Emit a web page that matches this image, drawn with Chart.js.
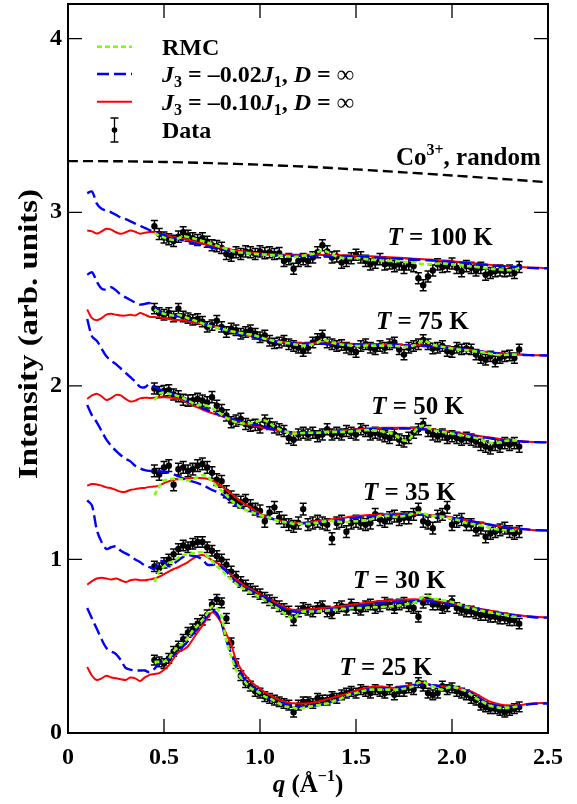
<!DOCTYPE html>
<html><head><meta charset="utf-8">
<script src="https://cdn.jsdelivr.net/npm/chart.js@4.4.1/dist/chart.umd.min.js"></script>
<style>html,body{margin:0;padding:0;background:#fff;}#wrap{width:577px;height:804px;}</style>
</head><body><div id="wrap"><canvas id="c" width="577" height="804"></canvas></div>
<script>
// ---------- data ----------
const qData = [0.45,0.475,0.5,0.525,0.55,0.575,0.6,0.625,0.65,0.675,0.7,0.725,0.75,0.775,0.8,0.825,0.85,0.875,0.9,0.925,0.95,0.975,1.0,1.025,1.05,1.075,1.1,1.125,1.15,1.175,1.2,1.225,1.25,1.275,1.3,1.325,1.35,1.375,1.4,1.425,1.45,1.475,1.5,1.525,1.55,1.575,1.6,1.625,1.65,1.675,1.7,1.725,1.75,1.775,1.8,1.825,1.85,1.875,1.9,1.925,1.95,1.975,2.0,2.025,2.05,2.075,2.1,2.125,2.15,2.175,2.2,2.225,2.25,2.275,2.3,2.325,2.35];
const qModel = [0.1,0.125,0.15,0.175,0.2,0.225,0.25,0.275,0.3,0.325,0.35,0.375,0.4,0.425,0.45,0.475,0.5,0.525,0.55,0.575,0.6,0.625,0.65,0.675,0.7,0.725,0.75,0.775,0.8,0.825,0.85,0.875,0.9,0.925,0.95,0.975,1.0,1.025,1.05,1.075,1.1,1.125,1.15,1.175,1.2,1.225,1.25,1.275,1.3,1.35,1.4,1.45,1.5,1.55,1.6,1.65,1.7,1.75,1.8,1.85,1.9,1.95,2.0,2.05,2.1,2.15,2.2,2.25,2.3,2.35,2.4,2.45,2.5];
const qRandom = [0,0.25,0.5,0.75,1.0,1.25,1.5,1.75,2.0,2.25,2.5];
const coRandom = [3.295,3.294,3.29,3.283,3.274,3.262,3.247,3.23,3.212,3.193,3.173];

const temperatures = ['25','30','35','50','75','100'];
const errBars = [0.028,0.03,0.034,0.032,0.03,0.032];
const labelQ = [1.656,1.726,1.778,1.821,1.846,1.9375];
const labelI = [0.334,0.833,1.341,1.84,2.329,2.809];

const data25 = [0.42,0.41,0.40,0.43,0.47,0.50,0.54,0.58,0.60,0.63,
0.65,0.68,0.74,0.77,0.75,0.66,0.52,0.40,0.33,0.29,
0.27,0.24,0.23,0.21,0.20,0.19,0.18,0.17,0.16,0.12,
0.16,0.18,0.18,0.17,0.20,0.19,0.19,0.21,0.20,0.22,
0.23,0.24,0.23,0.25,0.24,0.23,0.25,0.24,0.23,0.25,
0.22,0.24,0.24,0.26,0.25,0.29,0.27,0.23,0.22,0.23,
0.27,0.25,0.26,0.24,0.23,0.22,0.20,0.19,0.16,0.15,
0.14,0.14,0.13,0.12,0.13,0.14,0.15];
const rmc25 = [0.41,0.41,0.41,0.43,0.47,0.50,0.52,0.55,0.59,0.62,
0.65,0.69,0.73,0.72,0.67,0.53,0.44,0.365,0.32,0.29,
0.26,0.245,0.23,0.21,0.20,0.185,0.17,0.155,0.15,0.145,
0.14,0.145,0.15,0.155,0.16,0.165,0.17,0.18,0.19,0.20,
0.215,0.225,0.23,0.24,0.245,0.25,0.25,0.25,0.25,0.25,
0.25,0.25,0.255,0.26,0.27,0.29,0.295,0.28,0.27,0.255,
0.25,0.26,0.265,0.26,0.25,0.24,0.22,0.20,0.185,0.17,
0.155,0.15,0.145,0.145,0.145,0.15,0.155];
const blue25 = [0.72,0.66,0.60,0.54,0.49,0.47,0.455,0.42,0.375,0.365,
0.36,0.36,0.36,0.35,0.37,0.40,0.41,0.43,0.45,0.47,
0.50,0.53,0.57,0.60,0.635,0.675,0.705,0.69,0.63,0.53,
0.46,0.39,0.345,0.30,0.275,0.255,0.235,0.21,0.195,0.185,
0.175,0.17,0.16,0.155,0.152,0.152,0.155,0.158,0.16,
0.17,0.19,0.21,0.235,0.248,0.255,0.258,0.26,0.265,0.275,0.28,0.275,0.27,0.265,0.255,0.23,0.195,0.165,0.155,0.152,0.157,0.165,0.17,0.17];
const red25 = [0.38,0.33,0.305,0.315,0.33,0.32,0.315,0.31,0.305,0.32,
0.315,0.30,0.32,0.335,0.34,0.345,0.365,0.39,0.43,0.465,
0.48,0.50,0.54,0.58,0.62,0.66,0.695,0.675,0.63,0.57,
0.51,0.42,0.37,0.33,0.30,0.275,0.257,0.235,0.22,0.205,
0.19,0.18,0.175,0.171,0.17,0.17,0.171,0.175,0.18,
0.195,0.21,0.225,0.245,0.26,0.268,0.265,0.26,0.27,0.278,0.29,0.275,0.27,0.265,0.255,0.24,0.21,0.18,0.165,0.158,0.16,0.168,0.172,0.172];

const data30 = [0.96,0.95,0.98,1.00,1.03,1.06,1.08,1.07,1.09,1.10,
1.10,1.07,1.05,1.02,1.00,0.97,0.93,0.90,0.87,0.85,
0.83,0.815,0.80,0.78,0.765,0.75,0.73,0.715,0.70,0.65,
0.70,0.72,0.71,0.70,0.72,0.73,0.70,0.69,0.72,0.73,
0.71,0.74,0.72,0.71,0.73,0.74,0.72,0.73,0.75,0.74,
0.72,0.74,0.75,0.73,0.72,0.67,0.75,0.77,0.74,0.74,
0.72,0.73,0.76,0.72,0.71,0.70,0.70,0.69,0.68,0.68,
0.67,0.67,0.66,0.66,0.65,0.65,0.63];
const rmc30 = [0.87,0.93,0.96,0.98,0.99,1.01,1.025,1.03,1.035,1.04,
1.04,1.02,0.99,0.96,0.94,0.91,0.885,0.86,0.84,0.825,
0.81,0.795,0.785,0.765,0.745,0.73,0.71,0.69,0.67,0.66,
0.685,0.70,0.70,0.70,0.70,0.705,0.705,0.71,0.71,0.715,
0.715,0.72,0.72,0.72,0.72,0.725,0.725,0.725,0.727,0.73,
0.73,0.735,0.74,0.745,0.75,0.765,0.785,0.79,0.775,0.77,
0.765,0.76,0.755,0.745,0.735,0.725,0.72,0.71,0.705,0.70,
0.695,0.69,0.685,0.68,0.675,0.67,0.67];
const blue30 = [1.34,1.31,1.17,1.10,1.06,1.07,1.075,1.05,1.035,1.02,
1.00,0.985,0.965,0.955,0.945,0.99,0.985,0.96,0.975,0.995,
1.015,1.025,1.02,1.015,1.00,0.97,0.968,0.972,0.955,0.93,
0.90,0.87,0.85,0.835,0.82,0.805,0.795,0.78,0.765,0.745,
0.73,0.715,0.705,0.70,0.698,0.70,0.702,0.705,0.707,
0.71,0.715,0.722,0.73,0.737,0.745,0.75,0.755,0.758,0.76,0.76,0.758,0.75,0.74,0.73,0.72,0.71,0.70,0.69,0.68,0.675,0.67,0.665,0.665];
const red30 = [0.855,0.875,0.89,0.895,0.89,0.885,0.89,0.88,0.87,0.88,
0.885,0.88,0.88,0.885,0.89,0.90,0.915,0.93,0.945,0.955,
0.97,0.985,1.005,1.02,1.025,1.015,0.995,0.98,0.965,0.935,
0.91,0.885,0.865,0.845,0.83,0.815,0.80,0.785,0.77,0.755,
0.74,0.725,0.715,0.71,0.708,0.71,0.712,0.715,0.718,
0.722,0.728,0.735,0.742,0.75,0.757,0.762,0.765,0.768,0.77,0.768,0.765,0.755,0.745,0.735,0.725,0.715,0.705,0.695,0.685,0.678,0.672,0.668,0.665];

const data35 = [1.51,1.49,1.53,1.54,1.43,1.52,1.53,1.51,1.52,1.54,
1.55,1.53,1.50,1.46,1.45,1.39,1.36,1.34,1.33,1.34,
1.31,1.29,1.28,1.22,1.27,1.30,1.24,1.22,1.20,1.19,
1.21,1.29,1.20,1.21,1.22,1.21,1.20,1.12,1.21,1.22,
1.16,1.21,1.22,1.21,1.20,1.21,1.26,1.23,1.22,1.24,
1.25,1.23,1.24,1.24,1.26,1.29,1.22,1.21,1.18,1.25,
1.26,1.30,1.20,1.22,1.23,1.20,1.20,1.17,1.18,1.13,
1.15,1.16,1.17,1.18,1.16,1.15,1.16];
const rmc35 = [1.37,1.42,1.455,1.46,1.465,1.465,1.46,1.455,1.46,1.475,
1.485,1.48,1.45,1.42,1.395,1.37,1.34,1.32,1.30,1.285,
1.275,1.265,1.255,1.25,1.24,1.23,1.22,1.215,1.21,1.205,
1.205,1.205,1.205,1.208,1.212,1.218,1.22,1.222,1.22,1.215,
1.215,1.218,1.22,1.222,1.225,1.23,1.24,1.25,1.252,1.25,
1.245,1.245,1.25,1.255,1.265,1.27,1.265,1.255,1.25,1.25,
1.245,1.24,1.235,1.228,1.22,1.21,1.205,1.20,1.195,1.19,
1.18,1.175,1.17,1.168,1.165,1.165,1.165];
const blue35 = [1.89,1.83,1.79,1.74,1.69,1.655,1.625,1.60,1.58,1.565,
1.54,1.525,1.515,1.51,1.508,1.508,1.505,1.50,1.49,1.478,
1.465,1.455,1.448,1.44,1.43,1.415,1.40,1.39,1.375,1.355,
1.33,1.31,1.30,1.29,1.28,1.268,1.258,1.248,1.238,1.23,
1.222,1.217,1.212,1.208,1.207,1.208,1.21,1.213,1.215,
1.22,1.225,1.232,1.24,1.245,1.25,1.253,1.255,1.257,1.258,1.257,1.254,1.248,1.24,1.23,1.22,1.21,1.20,1.19,1.182,1.177,1.172,1.168,1.167];
const red35 = [1.425,1.435,1.432,1.425,1.415,1.41,1.40,1.39,1.39,1.40,
1.405,1.41,1.412,1.418,1.42,1.425,1.44,1.45,1.458,1.462,
1.465,1.467,1.469,1.47,1.468,1.465,1.455,1.44,1.42,1.40,
1.38,1.355,1.335,1.315,1.30,1.28,1.265,1.25,1.24,1.232,
1.225,1.22,1.215,1.212,1.21,1.212,1.215,1.218,1.222,
1.228,1.235,1.242,1.25,1.255,1.258,1.26,1.26,1.26,1.26,1.258,1.255,1.25,1.242,1.232,1.222,1.212,1.20,1.19,1.182,1.177,1.172,1.168,1.167];

const data50 = [1.985,1.965,1.97,1.975,1.95,1.94,1.92,1.915,1.917,1.925,
1.915,1.905,1.935,1.885,1.86,1.83,1.79,1.80,1.81,1.78,
1.77,1.775,1.76,1.80,1.78,1.76,1.75,1.74,1.70,1.69,
1.72,1.73,1.72,1.73,1.71,1.72,1.75,1.72,1.73,1.72,
1.74,1.73,1.72,1.75,1.74,1.72,1.73,1.72,1.71,1.70,
1.72,1.69,1.68,1.70,1.73,1.75,1.78,1.74,1.72,1.71,
1.72,1.70,1.71,1.70,1.69,1.70,1.69,1.68,1.66,1.65,
1.64,1.66,1.65,1.67,1.66,1.67,1.65];
const rmc50 = [1.917,1.955,1.962,1.955,1.948,1.94,1.93,1.915,1.90,1.89,
1.888,1.885,1.87,1.855,1.835,1.815,1.80,1.79,1.785,1.782,
1.785,1.79,1.80,1.80,1.785,1.765,1.75,1.74,1.73,1.725,
1.726,1.728,1.73,1.73,1.73,1.732,1.735,1.735,1.735,1.735,
1.735,1.738,1.74,1.742,1.745,1.745,1.742,1.74,1.735,1.73,
1.72,1.70,1.685,1.69,1.73,1.76,1.772,1.76,1.745,1.74,
1.735,1.73,1.725,1.72,1.715,1.71,1.705,1.70,1.69,1.68,
1.672,1.67,1.675,1.682,1.685,1.686,1.686];
const blue50 = [2.385,2.285,2.26,2.215,2.17,2.145,2.125,2.10,2.075,2.05,
2.025,1.995,1.992,2.01,1.995,1.98,1.97,1.96,1.952,1.94,
1.925,1.91,1.897,1.885,1.872,1.862,1.85,1.84,1.832,1.82,
1.81,1.80,1.795,1.788,1.782,1.776,1.77,1.762,1.755,1.748,
1.742,1.737,1.734,1.732,1.731,1.731,1.731,1.732,1.733,
1.735,1.738,1.742,1.746,1.75,1.752,1.753,1.754,1.754,1.753,1.75,1.745,1.738,1.73,1.722,1.714,1.706,1.698,1.69,1.684,1.68,1.677,1.675,1.674];
const red50 = [1.925,1.945,1.955,1.94,1.918,1.93,1.948,1.945,1.925,1.91,
1.915,1.928,1.932,1.93,1.932,1.935,1.935,1.933,1.93,1.925,
1.915,1.902,1.888,1.876,1.864,1.852,1.843,1.835,1.825,1.815,
1.805,1.795,1.787,1.78,1.775,1.768,1.762,1.756,1.75,1.745,
1.74,1.736,1.733,1.731,1.73,1.73,1.73,1.731,1.732,
1.735,1.74,1.745,1.75,1.754,1.757,1.758,1.758,1.758,1.757,1.754,1.749,1.742,1.734,1.726,1.718,1.71,1.702,1.694,1.687,1.682,1.678,1.676,1.675];

const data75 = [2.445,2.42,2.41,2.42,2.40,2.445,2.40,2.39,2.38,2.385,
2.37,2.34,2.35,2.375,2.34,2.31,2.33,2.32,2.30,2.31,
2.32,2.30,2.28,2.29,2.26,2.245,2.25,2.26,2.24,2.23,
2.22,2.20,2.22,2.25,2.27,2.29,2.25,2.24,2.23,2.235,
2.22,2.21,2.195,2.23,2.24,2.22,2.21,2.23,2.22,2.24,
2.25,2.21,2.18,2.22,2.23,2.24,2.265,2.24,2.215,2.22,
2.23,2.20,2.195,2.22,2.21,2.215,2.21,2.18,2.16,2.15,
2.17,2.14,2.16,2.17,2.175,2.16,2.21];
const rmc75 = [2.44,2.425,2.415,2.41,2.405,2.41,2.40,2.39,2.38,2.37,
2.36,2.35,2.34,2.335,2.33,2.322,2.315,2.31,2.305,2.30,
2.295,2.29,2.28,2.272,2.265,2.258,2.252,2.248,2.245,2.24,
2.235,2.232,2.235,2.24,2.25,2.265,2.26,2.25,2.242,2.238,
2.235,2.232,2.23,2.23,2.232,2.232,2.232,2.232,2.232,2.232,
2.23,2.228,2.225,2.225,2.232,2.245,2.262,2.25,2.238,2.23,
2.225,2.22,2.215,2.21,2.208,2.205,2.202,2.198,2.195,2.19,
2.185,2.18,2.178,2.178,2.18,2.18,2.18];
const blue75 = [2.64,2.655,2.60,2.56,2.555,2.568,2.55,2.525,2.51,2.495,
2.48,2.468,2.472,2.477,2.455,2.43,2.42,2.412,2.405,2.40,
2.393,2.385,2.377,2.368,2.36,2.352,2.344,2.336,2.328,2.32,
2.313,2.305,2.298,2.292,2.285,2.279,2.273,2.267,2.262,2.257,
2.253,2.25,2.247,2.245,2.244,2.243,2.243,2.243,2.243,
2.242,2.241,2.24,2.238,2.237,2.236,2.235,2.234,2.233,2.232,2.23,2.227,2.222,2.217,2.211,2.205,2.198,2.192,2.186,2.182,2.179,2.177,2.176,2.175];
const red75 = [2.44,2.39,2.378,2.39,2.41,2.415,2.41,2.405,2.405,2.41,
2.405,2.42,2.41,2.398,2.396,2.395,2.39,2.385,2.38,2.38,
2.378,2.372,2.366,2.36,2.355,2.35,2.345,2.338,2.33,2.322,
2.315,2.308,2.30,2.294,2.288,2.282,2.276,2.27,2.265,2.26,
2.256,2.253,2.25,2.248,2.247,2.246,2.246,2.246,2.246,
2.245,2.244,2.243,2.241,2.24,2.239,2.238,2.237,2.236,2.235,2.233,2.23,2.225,2.22,2.213,2.207,2.2,2.194,2.188,2.183,2.18,2.178,2.176,2.175];

const data100 = [2.92,2.875,2.855,2.845,2.835,2.86,2.885,2.865,2.85,2.84,
2.85,2.83,2.81,2.805,2.795,2.76,2.75,2.77,2.76,2.775,
2.77,2.76,2.775,2.765,2.77,2.76,2.765,2.72,2.73,2.675,
2.72,2.73,2.72,2.74,2.77,2.81,2.775,2.74,2.745,2.71,
2.72,2.735,2.755,2.74,2.72,2.70,2.71,2.73,2.70,2.705,
2.69,2.70,2.68,2.70,2.69,2.62,2.58,2.63,2.665,2.70,
2.685,2.69,2.705,2.68,2.66,2.69,2.68,2.665,2.68,2.64,
2.65,2.66,2.665,2.66,2.665,2.65,2.685];
const rmc100 = [2.88,2.865,2.855,2.845,2.84,2.85,2.862,2.858,2.85,2.842,
2.835,2.826,2.817,2.808,2.798,2.788,2.78,2.772,2.768,2.765,
2.762,2.76,2.758,2.756,2.754,2.752,2.75,2.748,2.745,2.743,
2.745,2.75,2.755,2.76,2.77,2.78,2.772,2.758,2.745,2.738,
2.735,2.735,2.735,2.735,2.73,2.728,2.725,2.723,2.72,2.72,
2.72,2.718,2.715,2.712,2.71,2.705,2.702,2.70,2.702,2.705,
2.705,2.703,2.70,2.697,2.694,2.69,2.688,2.685,2.682,2.678,
2.675,2.672,2.67,2.668,2.666,2.67,2.68];
const blue100 = [3.11,3.12,3.05,3.02,3.01,3.0,2.985,2.97,2.96,2.948,
2.935,2.922,2.91,2.897,2.885,2.875,2.868,2.86,2.852,2.845,
2.838,2.83,2.822,2.815,2.808,2.802,2.796,2.79,2.785,2.78,
2.776,2.772,2.768,2.765,2.762,2.759,2.757,2.755,2.753,2.752,
2.751,2.75,2.75,2.75,2.75,2.75,2.75,2.75,2.75,
2.749,2.748,2.746,2.744,2.742,2.74,2.737,2.734,2.731,2.728,2.725,2.722,2.718,2.714,2.71,2.705,2.70,2.695,2.69,2.686,2.683,2.68,2.678,2.677];
const red100 = [2.895,2.89,2.878,2.89,2.905,2.90,2.885,2.876,2.885,2.895,
2.888,2.877,2.882,2.887,2.885,2.878,2.872,2.865,2.858,2.852,
2.846,2.84,2.833,2.826,2.82,2.813,2.807,2.80,2.795,2.79,
2.785,2.78,2.776,2.772,2.768,2.765,2.762,2.76,2.758,2.757,
2.756,2.755,2.755,2.755,2.755,2.755,2.755,2.755,2.755,
2.754,2.753,2.751,2.749,2.747,2.745,2.742,2.739,2.736,2.733,2.73,2.726,2.722,2.718,2.713,2.708,2.702,2.697,2.692,2.688,2.685,2.682,2.68,2.678];

const xTicks = [0,0.5,1,1.5,2,2.5];
const yTicks = [0,1,2,3,4];

// ---------- build ----------
const allData = [data25,data30,data35,data50,data75,data100];
const allRmc = [rmc25,rmc30,rmc35,rmc50,rmc75,rmc100];
const allBlue = [blue25,blue30,blue35,blue50,blue75,blue100];
const allRed = [red25,red30,red35,red50,red75,red100];
const pts = (xs, ys) => ys.map((y,i)=>({x:xs[i], y:y}));

const FONT = '"Liberation Serif","Times New Roman",serif';
const fnt = (sz,it) => (it?'italic ':'')+'bold '+sz+'px '+FONT;

const datasets = [];
temperatures.forEach((t,k)=>{
  datasets.push({label:'RMC '+t, data:pts(qData,allRmc[k]), borderColor:'#7fff00', borderWidth:2.6, borderDash:[5,3], pointRadius:0, tension:0.3, order:1});
  datasets.push({label:'J3=-0.02 '+t, data:pts(qModel,allBlue[k]), borderColor:'#0000ff', borderWidth:2.4, borderDash:[12,5], pointRadius:0, tension:0.3, order:2});
  datasets.push({label:'J3=-0.10 '+t, data:pts(qModel,allRed[k]), borderColor:'#ff0000', borderWidth:2, pointRadius:0, tension:0.3, order:3});
  datasets.push({label:'Data '+t, data:pts(qData,allData[k]), showLine:false, pointRadius:3.2, pointBackgroundColor:'#000', pointBorderWidth:0, borderColor:'#000', order:5});
});
datasets.push({label:'Co3+ random', data:pts(qRandom,coRandom), borderColor:'#000', borderWidth:2.4, borderDash:[10,5], pointRadius:0, tension:0.3, order:4});

function rich(ctx, segs, x, y, align){
  let w=0;
  segs.forEach(s=>{ctx.font=fnt(s.sz||24,s.it); s.w=ctx.measureText(s.t).width; w+=s.w;});
  let cx = align==='right'? x-w : (align==='center'? x-w/2 : x);
  ctx.textAlign='left'; ctx.textBaseline='alphabetic'; ctx.fillStyle='#000';
  segs.forEach(s=>{ctx.font=fnt(s.sz||24,s.it); ctx.fillText(s.t,cx,y+(s.dy||0)); cx+=s.w;});
}

const errorBars = {
  id:'errorBars',
  beforeDatasetsDraw(chart){
    const ctx=chart.ctx, xs=chart.scales.x, ys=chart.scales.y;
    ctx.save(); ctx.strokeStyle='#000'; ctx.lineWidth=1.5; ctx.setLineDash([]);
    allData.forEach((arr,k)=>{
      const e=errBars[k];
      arr.forEach((v,i)=>{
        const px=xs.getPixelForValue(qData[i]);
        const y1=ys.getPixelForValue(v+e), y2=ys.getPixelForValue(v-e);
        ctx.beginPath();
        ctx.moveTo(px,y1); ctx.lineTo(px,y2);
        ctx.moveTo(px-3.5,y1); ctx.lineTo(px+3.5,y1);
        ctx.moveTo(px-3.5,y2); ctx.lineTo(px+3.5,y2);
        ctx.stroke();
      });
    });
    ctx.restore();
  }
};

const overlay = {
  id:'overlay',
  afterDraw(chart){
    const ctx=chart.ctx, a=chart.chartArea, xs=chart.scales.x, ys=chart.scales.y;
    ctx.save();
    ctx.strokeStyle='#000'; ctx.lineWidth=2; ctx.setLineDash([]);
    ctx.strokeRect(a.left, a.top, a.right-a.left, a.bottom-a.top);
    ctx.lineWidth=1.3;
    ctx.beginPath();
    xTicks.forEach(v=>{ if(v<=0||v>=2.5) return; const p=xs.getPixelForValue(v);
      ctx.moveTo(p,a.bottom); ctx.lineTo(p,a.bottom-14); ctx.moveTo(p,a.top); ctx.lineTo(p,a.top+14); });
    yTicks.forEach(v=>{ if(v<=0) return; const p=ys.getPixelForValue(v);
      ctx.moveTo(a.left,p); ctx.lineTo(a.left+14,p); ctx.moveTo(a.right,p); ctx.lineTo(a.right-14,p); });
    ctx.stroke();
    temperatures.forEach((t,k)=>{
      rich(ctx,[{t:'T',it:true,sz:25},{t:' = '+t+' K',sz:25}], xs.getPixelForValue(labelQ[k]), ys.getPixelForValue(labelI[k]), 'center');
    });
    rich(ctx,[{t:'Co',sz:25},{t:'3+',sz:16,dy:-10},{t:', random',sz:25}], xs.getPixelForValue(2.4625), ys.getPixelForValue(3.27), 'right');
    // legend
    const lx0=a.left+29, lx1=a.left+64, tx=a.left+94;
    const rows=[a.top+42.7, a.top+70, a.top+97.7, a.top+126];
    ctx.lineWidth=2.6; ctx.strokeStyle='#7fff00'; ctx.setLineDash([5,3]);
    ctx.beginPath(); ctx.moveTo(lx0,rows[0]); ctx.lineTo(lx1,rows[0]); ctx.stroke();
    ctx.lineWidth=2.4; ctx.strokeStyle='#0000ff'; ctx.setLineDash([12,5]);
    ctx.beginPath(); ctx.moveTo(lx0,rows[1]); ctx.lineTo(lx1,rows[1]); ctx.stroke();
    ctx.lineWidth=2; ctx.strokeStyle='#ff0000'; ctx.setLineDash([]);
    ctx.beginPath(); ctx.moveTo(lx0,rows[2]); ctx.lineTo(lx1,rows[2]); ctx.stroke();
    const mx=(lx0+lx1)/2;
    ctx.lineWidth=1.3; ctx.strokeStyle='#000';
    ctx.beginPath(); ctx.moveTo(mx,rows[3]-12); ctx.lineTo(mx,rows[3]+12);
    ctx.moveTo(mx-4,rows[3]-12); ctx.lineTo(mx+4,rows[3]-12);
    ctx.moveTo(mx-4,rows[3]+12); ctx.lineTo(mx+4,rows[3]+12); ctx.stroke();
    ctx.fillStyle='#000'; ctx.beginPath(); ctx.arc(mx,rows[3],2.8,0,Math.PI*2); ctx.fill();
    const bl=8;
    rich(ctx,[{t:'RMC'}], tx, rows[0]+bl);
    rich(ctx,[{t:'J',it:true},{t:'3',sz:16,dy:5},{t:' = \u20130.02'},{t:'J',it:true},{t:'1',sz:16,dy:5},{t:', '},{t:'D',it:true},{t:' = \u221e'}], tx, rows[1]+bl);
    rich(ctx,[{t:'J',it:true},{t:'3',sz:16,dy:5},{t:' = \u20130.10'},{t:'J',it:true},{t:'1',sz:16,dy:5},{t:', '},{t:'D',it:true},{t:' = \u221e'}], tx, rows[2]+bl);
    rich(ctx,[{t:'Data'}], tx, rows[3]+bl);
    // axis titles
    rich(ctx,[{t:'q',it:true,sz:25},{t:' (\u00c5',sz:25},{t:'\u22121',sz:16,dy:-11},{t:')',sz:25}], (a.left+a.right)/2, 792, 'center');
    ctx.save(); ctx.translate(37, 334); ctx.rotate(-Math.PI/2); ctx.scale(1.22,1);
    rich(ctx,[{t:'Intensity (arb. units)',sz:27}], 0, 0, 'center');
    ctx.restore();
    ctx.restore();
  }
};

new Chart(document.getElementById('c'), {
  type:'line',
  data:{datasets:datasets},
  options:{
    responsive:false, animation:false, devicePixelRatio:1, events:[],
    layout:{padding:{left:0,right:29,top:4,bottom:0}},
    plugins:{legend:{display:false}, tooltip:{enabled:false}},
    scales:{
      x:{type:'linear', min:0, max:2.5, afterFit(s){s.height=71; s.paddingLeft=0; s.paddingRight=0;},
         grid:{display:false, drawTicks:false}, border:{display:false},
         afterBuildTicks(s){ s.ticks = xTicks.map(v=>({value:v})); },
         ticks:{color:'#000', padding:10, font:{family:FONT, size:24, weight:'bold'}, maxRotation:0}},
      y:{type:'linear', min:0, max:4.2, afterFit(s){s.width=68; s.paddingTop=0; s.paddingBottom=0;},
         grid:{display:false, drawTicks:false}, border:{display:false},
         afterBuildTicks(s){ s.ticks = yTicks.map(v=>({value:v})); },
         ticks:{color:'#000', padding:6, font:{family:FONT, size:24, weight:'bold'}}}
    }
  },
  plugins:[errorBars, overlay]
});
</script></body></html>
